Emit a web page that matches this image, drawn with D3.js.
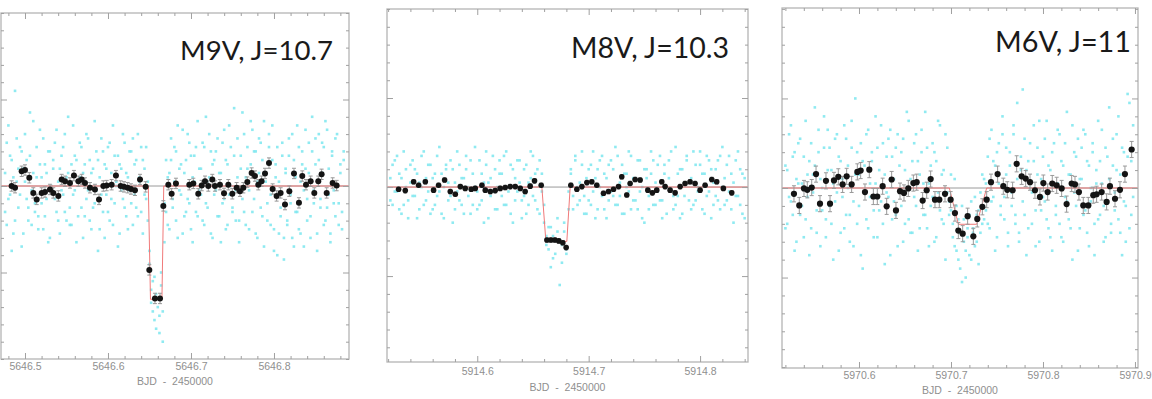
<!DOCTYPE html>
<html><head><meta charset="utf-8">
<script src="https://cdn.jsdelivr.net/npm/d3@7"></script>
<style>body{margin:0;background:#fff}svg{display:block}</style>
</head><body>
<svg id="c" width="1152" height="399"></svg>
<script>
// ---------------- DATA ----------------
const titles = ["M9V, J=10.7", "M8V, J=10.3", "M6V, J=11"];
const xAxisTitle = "BJD - 2450000";
const xTicks1 = [5646.5, 5646.6, 5646.7, 5646.8];
const xTicks2 = [5914.6, 5914.7, 5914.8];
const xTicks3 = [5970.6, 5970.7, 5970.8, 5970.9];
const yTicksMajor = [0.98, 1.00, 1.02];

// Panel 1 binned (black) points
const bin1T = [5646.4839,5646.4880,5646.4960,5646.5000,5646.5052,5646.5100,5646.5141,5646.5201,5646.5241,5646.5301,
 5646.5341,5646.5402,5646.5442,5646.5482,5646.5542,5646.5590,5646.5643,5646.5683,5646.5723,5646.5783,
 5646.5843,5646.5892,5646.5944,5646.5984,5646.6044,5646.6096,5646.6153,5646.6193,5646.6237,5646.6277,
 5646.6325,5646.6386,5646.6454,5646.6498,5646.6566,5646.6627,5646.6667,5646.6727,5646.6767,5646.6819,
 5646.6980,5646.7028,5646.7088,5646.7129,5646.7169,5646.7209,5646.7257,5646.7289,5646.7349,5646.7398,
 5646.7450,5646.7498,5646.7550,5646.7590,5646.7631,5646.7679,5646.7731,5646.7771,5646.7811,5646.7851,
 5646.7892,5646.7940,5646.7984,5646.8032,5646.8080,5646.8133,5646.8185,5646.8241,5646.8301,5646.8341,
 5646.8386,5646.8442,5646.8486,5646.8534,5646.8574,5646.8635,5646.8707,5646.8755];
const bin1F = [1.0000,0.9996,1.0034,1.0037,1.0019,0.9984,0.9969,0.9984,0.9986,0.9992,
 0.9984,0.9977,1.0015,1.0011,1.0007,1.0024,1.0011,1.0015,1.0007,0.9996,
 0.9992,0.9969,1.0000,1.0001,1.0003,1.0024,1.0000,0.9998,0.9996,0.9993,
 0.9990,1.0015,0.9998,0.9806,0.9740,0.9740,0.9954,1.0003,0.9982,1.0006,
 1.0003,1.0006,0.9982,1.0001,1.0011,1.0000,1.0015,1.0000,1.0003,0.9983,
 1.0003,0.9982,0.9996,0.9988,0.9996,1.0009,1.0030,1.0023,1.0003,1.0011,
 1.0029,1.0053,0.9993,0.9977,0.9984,0.9957,0.9988,1.0029,0.9961,1.0023,
 1.0003,1.0011,0.9984,1.0011,1.0027,0.9984,1.0007,1.0001];
const bin1Err = 0.0012;
const model1T = [5646.4711,5646.6486,5646.6512,5646.6650,5646.6672,5646.8904];
const model1F = [1,1,0.9738,0.9738,1,1];

// Panel 1 raw (cyan) points: time, and two exposures' flux deviation in ppt
const raw1T = [5646.476,5646.478,5646.480,5646.482,5646.484,5646.486,5646.488,5646.490,5646.492,5646.494,
 5646.496,5646.498,5646.500,5646.502,5646.504,5646.506,5646.508,5646.510,5646.512,5646.514,
 5646.516,5646.518,5646.520,5646.522,5646.524,5646.526,5646.528,5646.530,5646.532,5646.534,
 5646.536,5646.538,5646.540,5646.542,5646.544,5646.546,5646.548,5646.550,5646.552,5646.554,
 5646.556,5646.558,5646.560,5646.562,5646.564,5646.566,5646.568,5646.570,5646.572,5646.574,
 5646.576,5646.578,5646.580,5646.582,5646.584,5646.586,5646.588,5646.590,5646.592,5646.594,
 5646.596,5646.598,5646.600,5646.602,5646.604,5646.606,5646.608,5646.610,5646.612,5646.614,
 5646.616,5646.618,5646.620,5646.622,5646.624,5646.626,5646.628,5646.630,5646.632,5646.634,
 5646.636,5646.638,5646.640,5646.642,5646.644,5646.646,5646.648,5646.650,5646.652,5646.654,
 5646.656,5646.658,5646.660,5646.662,5646.664,5646.666,5646.668,5646.670,5646.672,5646.674,
 5646.676,5646.678,5646.680,5646.682,5646.684,5646.686,5646.688,5646.690,5646.692,5646.694,
 5646.696,5646.698,5646.700,5646.702,5646.704,5646.706,5646.708,5646.710,5646.712,5646.714,
 5646.716,5646.718,5646.720,5646.722,5646.724,5646.726,5646.728,5646.730,5646.732,5646.734,
 5646.736,5646.738,5646.740,5646.742,5646.744,5646.746,5646.748,5646.750,5646.752,5646.754,
 5646.756,5646.758,5646.760,5646.762,5646.764,5646.766,5646.768,5646.770,5646.772,5646.774,
 5646.776,5646.778,5646.780,5646.782,5646.784,5646.786,5646.788,5646.790,5646.792,5646.794,
 5646.796,5646.798,5646.800,5646.802,5646.804,5646.806,5646.808,5646.810,5646.812,5646.814,
 5646.816,5646.818,5646.820,5646.822,5646.824,5646.826,5646.828,5646.830,5646.832,5646.834,
 5646.836,5646.838,5646.840,5646.842,5646.844,5646.846,5646.848,5646.850,5646.852,5646.854,
 5646.856,5646.858,5646.860,5646.862,5646.864,5646.866,5646.868,5646.870,5646.872,5646.874,
 5646.876,5646.878,5646.880,5646.882,5646.884];
const raw1A = [3,-9,14,-2,6,-11,22,1,-5,9, -14,4,12,-3,-8,7,-1,15,-6,2, -10,5,-4,11,-7,3,8,-12,0,6,
 -3,13,-8,4,-1,9,-6,2,16,-9, 5,-2,7,-13,1,10,-5,3,-7,12, -1,6,-10,4,-4,8,-15,2,11,-6,
 5,-2,9,-8,3,14,-4,0,7,-11, 4,-3,10,-7,2,-1,8,-9,5,-5, 12,1,-6,6,-2,9,-8,-18,-24,-29,
 -21,-33,-26,-30,-23,-36,-4,6,-9,3, 11,-5,1,8,-12,4,-2,13,-7,6, -3,10,-10,2,7,-6,15,-1,4,-8,
 9,-4,1,12,-11,5,-2,8,-7,3, -13,10,-3,6,-9,14,0,-5,7,-1, 11,-8,4,17,-6,2,9,-10,5,13,
 -3,8,-12,3,10,-7,15,1,-4,12, -9,6,-15,2,9,-11,-5,7,-17,3, -8,11,-2,-12,6,-6,14,-10,1,8,
 -14,4,-3,10,-7,16,-1,5,-11,12, -5,3,9,-8,13,-2,-13,7,-4,11, 0,-9,5,-6,8];
const raw1B = [-6,10,-3,7,-15,2,-8,11,4,-2, 8,-11,1,6,-5,17,-9,3,-4,9, -7,13,2,-10,5,-3,-13,8,-1,4,
 10,-6,1,-11,7,-2,12,-8,3,-5, -9,14,-1,6,-7,2,9,-12,5,-3, 11,-8,3,-5,15,-1,6,-10,-2,8,
 -12,4,-6,10,-3,-9,7,1,-14,5, -1,12,-5,3,-10,8,-4,11,-2,6, -7,2,9,-11,4,-3,1,-15,-27,-22,
 -31,-25,-28,-34,-20,-29,-13,-6,2,-10, 6,-3,9,-8,14,-1,5,-11,3,-6, 12,-4,7,-13,1,9,-7,4,-2,10,
 -9,16,-5,2,8,-12,6,-1,11,-7, 3,-4,13,-10,5,-2,9,-6,18,-8, 2,-13,7,-3,12,-9,4,-1,15,-6,
 8,-11,1,11,-5,6,-14,3,-8,9, -2,14,-10,5,-16,1,-7,10,-12,4, -9,7,-4,12,-14,2,-6,9,-11,5,
 -1,13,-8,3,-12,8,-4,11,-15,6, -3,10,-9,15,-5,4,-11,8,-1,-7, 12,-4,3,-10,6];

// Panel 2 binned points
const bin2T = [5914.5294,5914.5354,5914.5429,5914.5474,5914.5534,5914.5608,5914.5653,5914.5707,5914.5758,5914.5803,
 5914.5848,5914.5892,5914.5946,5914.5982,5914.6042,5914.6072,5914.6117,5914.6161,5914.6206,5914.6251,
 5914.6296,5914.6341,5914.6386,5914.6430,5914.6475,5914.6514,5914.6574,5914.6625,5914.6661,5914.6697,
 5914.6732,5914.6768,5914.6798,5914.6840,5914.6894,5914.6939,5914.6984,5914.7028,5914.7073,5914.7133,
 5914.7178,5914.7223,5914.7268,5914.7297,5914.7342,5914.7372,5914.7417,5914.7462,5914.7531,5914.7572,
 5914.7611,5914.7656,5914.7686,5914.7731,5914.7776,5914.7821,5914.7865,5914.7910,5914.7955,5914.8000,
 5914.8045,5914.8105,5914.8149,5914.8209,5914.8284];
const bin2F = [0.9995,0.9992,1.0012,1.0004,1.0012,0.9993,1.0004,1.0016,0.9990,0.9984,
 1.0001,0.9997,0.9995,0.9997,1.0004,0.9993,0.9990,0.9992,0.9997,0.9999,
 1.0001,1.0001,0.9997,0.9990,1.0002,1.0014,1.0004,0.9881,0.9881,0.9881,
 0.9879,0.9875,0.9864,1.0004,0.9995,1.0001,1.0010,1.0012,1.0004,0.9986,
 0.9990,0.9995,1.0001,1.0023,0.9982,1.0008,1.0017,1.0016,0.9993,0.9987,
 0.9993,1.0012,1.0001,0.9993,0.9987,1.0001,1.0008,1.0012,1.0008,0.9993,
 1.0004,1.0017,1.0012,0.9997,0.9987];
const bin2Err = 0.0005;
const model2T = [5914.5190,5914.6580,5914.6616,5914.6804,5914.6834,5914.8430];
const model2F = [1,1,0.9878,0.9878,1,1];

const raw2T = [5914.522,5914.524,5914.526,5914.528,5914.530,5914.532,5914.534,5914.536,5914.538,5914.540,
 5914.542,5914.544,5914.546,5914.548,5914.550,5914.552,5914.554,5914.556,5914.558,5914.560,
 5914.562,5914.564,5914.566,5914.568,5914.570,5914.572,5914.574,5914.576,5914.578,5914.580,
 5914.582,5914.584,5914.586,5914.588,5914.590,5914.592,5914.594,5914.596,5914.598,5914.600,
 5914.602,5914.604,5914.606,5914.608,5914.610,5914.612,5914.614,5914.616,5914.618,5914.620,
 5914.622,5914.624,5914.626,5914.628,5914.630,5914.632,5914.634,5914.636,5914.638,5914.640,
 5914.642,5914.644,5914.646,5914.648,5914.650,5914.652,5914.654,5914.656,5914.658,5914.660,
 5914.662,5914.664,5914.666,5914.668,5914.670,5914.672,5914.674,5914.676,5914.678,5914.680,
 5914.682,5914.684,5914.686,5914.688,5914.690,5914.692,5914.694,5914.696,5914.698,5914.700,
 5914.702,5914.704,5914.706,5914.708,5914.710,5914.712,5914.714,5914.716,5914.718,5914.720,
 5914.722,5914.724,5914.726,5914.728,5914.730,5914.732,5914.734,5914.736,5914.738,5914.740,
 5914.742,5914.744,5914.746,5914.748,5914.750,5914.752,5914.754,5914.756,5914.758,5914.760,
 5914.762,5914.764,5914.766,5914.768,5914.770,5914.772,5914.774,5914.776,5914.778,5914.780,
 5914.782,5914.784,5914.786,5914.788,5914.790,5914.792,5914.794,5914.796,5914.798,5914.800,
 5914.802,5914.804,5914.806,5914.808,5914.810,5914.812,5914.814,5914.816,5914.818,5914.820,
 5914.822,5914.824,5914.826,5914.828,5914.830,5914.832,5914.834,5914.836,5914.838,5914.840];
const raw2A = [2,-4,6,-1,3,-6,8,0,-3,5, -2,4,-7,1,7,-4,2,-1,5,-5, 3,-2,9,-6,0,4,-3,6,-8,1,
 -1,5,-4,2,7,-2,-6,3,0,-5, 6,-3,1,8,-7,2,-1,4,-5,3, -2,7,-4,0,5,-8,2,-1,6,-3,
 4,-6,1,8,-2,3,-5,6,-1,-4, -11,-14,-9,-16,-12,-10,-22,-13,-8,-15, -5,3,-2,6,-4,1,8,-6,2,-3,
 5,-1,-7,4,0,7,-5,2,-3,6, -2,9,-4,1,5,-6,3,-1,7,-3, 2,-5,6,0,-8,4,-2,8,-4,1,
 5,-3,-7,3,0,6,-1,-5,9,-2, 4,-6,1,7,-3,2,-4,5,-1,8, -5,3,-2,6,-7,1,4,-3,7,0,
 -4,5,-1,3,-8,6,-2,4,-6,2];
const raw2B = [-3,5,-1,7,-5,2,-4,4,-7,1, 6,-2,3,-5,0,8,-3,5,-6,2, -4,7,-1,3,-7,5,1,-2,4,-5,
 8,-3,2,-6,4,0,6,-4,9,-1, -4,3,-8,5,1,-2,7,-5,0,6, 3,-4,8,-1,-6,4,-3,6,1,-7,
 -2,5,-4,2,7,-3,4,-6,3,-8, -13,-9,-18,-11,-15,-7,-12,-17,-10,-14, -1,4,-5,7,0,-3,5,-2,-6,4,
 -4,8,2,-5,6,-2,3,-7,5,-1, 4,-4,7,-2,-6,3,0,8,-5,2, -3,6,-1,-7,4,2,-5,3,6,-4,
 -1,7,-3,5,-6,2,8,-2,-4,3, -7,4,-2,6,1,-5,8,-3,0,5, 3,-6,7,-1,4,-4,-2,6,-5,9,
 2,-3,7,-5,1,-2,8,-4,3,-7];

// Panel 3 binned points
const bin3T = [5970.5293,5970.5351,5970.5402,5970.5438,5970.5486,5970.5533,5970.5576,5970.5641,5970.5685,5970.5728,
 5970.5775,5970.5822,5970.5866,5970.5920,5970.5982,5970.6018,5970.6065,5970.6112,5970.6156,5970.6199,
 5970.6257,5970.6301,5970.6355,5970.6402,5970.6446,5970.6489,5970.6536,5970.6591,5970.6627,5970.6692,
 5970.6736,5970.6779,5970.6826,5970.6873,5970.6935,5970.6996,5970.7043,5970.7080,5970.7127,5970.7181,
 5970.7243,5970.7286,5970.7341,5970.7388,5970.7435,5970.7507,5970.7569,5970.7612,5970.7670,5970.7714,
 5970.7768,5970.7812,5970.7859,5970.7913,5970.7967,5970.8004,5970.8051,5970.8101,5970.8149,5970.8203,
 5970.8257,5970.8312,5970.8348,5970.8391,5970.8438,5970.8493,5970.8547,5970.8583,5970.8638,5970.8692,
 5970.8728,5970.8783,5970.8837,5970.8891,5970.8964];
const bin3F = [0.9987,0.9961,0.9999,0.9996,1.0001,1.0031,0.9965,1.0016,0.9965,1.0017,
 1.0025,1.0008,1.0026,1.0008,1.0036,1.0039,0.9991,1.0041,0.9981,0.9981,
 1.0004,0.9959,1.0019,0.9950,0.9993,0.9989,0.9999,1.0011,1.0013,0.9972,
 0.9995,1.0020,0.9974,0.9974,0.9987,0.9974,0.9944,0.9905,0.9898,0.9937,
 0.9892,0.9931,0.9958,0.9974,1.0013,1.0031,1.0004,0.9996,0.9995,1.0054,
 1.0026,1.0021,1.0013,0.9995,0.9980,1.0011,0.9991,1.0010,1.0006,0.9999,
 0.9964,1.0010,1.0008,0.9991,0.9961,0.9961,0.9984,0.9986,0.9991,0.9969,
 1.0004,0.9976,0.9996,1.0031,1.0086];
const bin3Err = 0.0018;
const model3T = [5970.5163,5970.6982,5970.7080,5970.7279,5970.7388,5970.9033];
const model3F = [1,1,0.9919,0.9919,1,1];

const raw3T = [5970.520,5970.522,5970.524,5970.526,5970.528,5970.530,5970.532,5970.534,5970.536,5970.538,
 5970.540,5970.542,5970.544,5970.546,5970.548,5970.550,5970.552,5970.554,5970.556,5970.558,
 5970.560,5970.562,5970.564,5970.566,5970.568,5970.570,5970.572,5970.574,5970.576,5970.578,
 5970.580,5970.582,5970.584,5970.586,5970.588,5970.590,5970.592,5970.594,5970.596,5970.598,
 5970.600,5970.602,5970.604,5970.606,5970.608,5970.610,5970.612,5970.614,5970.616,5970.618,
 5970.620,5970.622,5970.624,5970.626,5970.628,5970.630,5970.632,5970.634,5970.636,5970.638,
 5970.640,5970.642,5970.644,5970.646,5970.648,5970.650,5970.652,5970.654,5970.656,5970.658,
 5970.660,5970.662,5970.664,5970.666,5970.668,5970.670,5970.672,5970.674,5970.676,5970.678,
 5970.680,5970.682,5970.684,5970.686,5970.688,5970.690,5970.692,5970.694,5970.696,5970.698,
 5970.700,5970.702,5970.704,5970.706,5970.708,5970.710,5970.712,5970.714,5970.716,5970.718,
 5970.720,5970.722,5970.724,5970.726,5970.728,5970.730,5970.732,5970.734,5970.736,5970.738,
 5970.740,5970.742,5970.744,5970.746,5970.748,5970.750,5970.752,5970.754,5970.756,5970.758,
 5970.760,5970.762,5970.764,5970.766,5970.768,5970.770,5970.772,5970.774,5970.776,5970.778,
 5970.780,5970.782,5970.784,5970.786,5970.788,5970.790,5970.792,5970.794,5970.796,5970.798,
 5970.800,5970.802,5970.804,5970.806,5970.808,5970.810,5970.812,5970.814,5970.816,5970.818,
 5970.820,5970.822,5970.824,5970.826,5970.828,5970.830,5970.832,5970.834,5970.836,5970.838,
 5970.840,5970.842,5970.844,5970.846,5970.848,5970.850,5970.852,5970.854,5970.856,5970.858,
 5970.860,5970.862,5970.864,5970.866,5970.868,5970.870,5970.872,5970.874,5970.876,5970.878,
 5970.880,5970.882,5970.884,5970.886,5970.888,5970.890,5970.892,5970.894,5970.896,5970.898];
const raw3A = [5,-8,12,-3,7,-14,2,10,-6,1, -11,15,-2,6,-9,3,18,-5,8,-13, 0,9,-7,13,-4,4,-16,11,-1,7,
 -10,2,14,-6,5,-12,9,-3,20,-8, 3,-15,6,-1,12,-9,1,8,-5,16, -11,4,-3,10,-17,7,-2,13,-7,2,
 9,-13,5,-4,11,-8,0,15,-10,6, -2,12,-14,3,8,-6,17,-9,1,-4, 10,-12,6,-1,14,-7,4,-16,9,-3,
 -5,-11,2,-14,-7,-18,-4,-12,-20,-9, -15,-3,-10,-13,-6,-17,-1,-8,2,-5, 7,-9,13,-2,5,-11,10,-4,16,-7,
 3,-13,8,-1,12,-6,19,-10,4,-3, 11,-15,6,0,-8,14,-5,9,-12,2, 7,-3,15,-9,4,-14,10,-6,1,12,
 -11,5,-2,17,-7,3,-16,8,-4,11, -9,2,13,-5,6,-13,0,10,-8,4, 15,-6,1,-12,9,-3,18,-10,5,-1,
 12,-7,3,-15,8,-4,21,-9,6,-2];
const raw3B = [-9,4,-2,14,-6,8,-12,1,11,-4, 7,-7,3,-15,10,-1,5,-10,13,2, -5,16,-11,4,9,-8,1,-3,12,-14,
 6,-2,-9,11,0,-6,15,-13,3,8, -4,10,-18,5,-7,13,-2,6,-11,1, 9,-5,14,-8,3,-1,11,-15,7,-3,
 -6,12,-1,8,-12,4,17,-7,2,-10, 10,-4,6,-9,13,1,-6,9,-13,5, -2,8,-11,15,-5,3,-8,12,-1,-6,
 3,-8,-13,-4,-16,-10,-21,-7,-14,-11, -6,-16,-9,-2,-12,-5,-10,3,-7,1, -8,11,-3,6,-14,8,1,-6,12,-2,
 9,-10,5,-4,14,-8,2,-12,7,22, -6,4,-9,10,-1,6,-13,3,15,-5, -2,11,-7,5,-11,8,1,-4,13,-8,
 6,-12,10,-3,3,-9,14,-1,7,-14, 2,9,-6,12,-10,5,-3,8,-15,1, -7,6,13,-4,-11,7,2,-8,11,-5,
 4,16,-10,9,-3,-12,7,19,-6,14];

// ---------------- LAYOUT / STYLE ----------------
const panels = [
  {title: titles[0], xTicks: xTicks1, binT: bin1T, binF: bin1F, err: bin1Err, modT: model1T, modF: model1F,
   rawT: raw1T, rawA: raw1A, rawB: raw1B,
   box: {x0: 1, y0: 13, x1: 349, y1: 359}, xDom: [5646.4711, 5646.8904], yDom: [0.9600, 1.0400],
   titleRight: 333, titleBase: 60, titleW: 153, lblPad: 4, axTitleY: 385, r: 3.0},
  {title: titles[1], xTicks: xTicks2, binT: bin2T, binF: bin2F, err: bin2Err, modT: model2T, modF: model2F,
   rawT: raw2T, rawA: raw2A, rawB: raw2B,
   box: {x0: 387, y0: 9, x1: 748, y1: 362}, xDom: [5914.519, 5914.843], yDom: [0.9607, 1.0400],
   titleRight: 729, titleBase: 58, titleW: 158, lblPad: 6, axTitleY: 391, r: 2.8},
  {title: titles[2], xTicks: xTicks3, binT: bin3T, binF: bin3F, err: bin3Err, modT: model3T, modF: model3F,
   rawT: raw3T, rawA: raw3A, rawB: raw3B,
   box: {x0: 782, y0: 8, x1: 1138, y1: 368}, xDom: [5970.5163, 5970.9033], yDom: [0.9598, 1.0402],
   titleRight: 1131, titleBase: 52, titleW: 136, lblPad: 4, axTitleY: 394, r: 3.1}
];

const svg = d3.select("#c");
const frameColor = "#b4b4b4";
const tickColor = "#a0a0a0";

panels.forEach(p => {
  const b = p.box;
  const x = d3.scaleLinear().domain(p.xDom).range([b.x0, b.x1]);
  const y = d3.scaleLinear().domain(p.yDom).range([b.y1, b.y0]);
  const g = svg.append("g");

  const clipId = "clip" + b.x0;
  g.append("clipPath").attr("id", clipId).append("rect")
    .attr("x", b.x0).attr("y", b.y0).attr("width", b.x1 - b.x0).attr("height", b.y1 - b.y0);
  const plot = g.append("g").attr("clip-path", `url(#${clipId})`);

  // raw cyan points
  const raw = [];
  p.rawT.forEach((t, i) => {
    raw.push({t: t, f: 1 + p.rawA[i] / 1000});
    raw.push({t: t, f: 1 + p.rawB[i] / 1000});
  });
  plot.selectAll("rect.raw").data(raw).join("rect").attr("class", "raw")
    .attr("x", d => x(d.t) - 1.3).attr("y", d => y(d.f) - 1.3)
    .attr("width", 2.6).attr("height", 2.6)
    .attr("fill", "#7be6ef").attr("opacity", 0.85);

  // reference line at flux = 1
  plot.append("line").attr("x1", b.x0).attr("x2", b.x1).attr("y1", y(1)).attr("y2", y(1))
    .attr("stroke", "#9a9a9a").attr("stroke-width", 1);

  // model
  const model = p.modT.map((t, i) => ({t: t, f: p.modF[i]}));
  plot.append("path").datum(model)
    .attr("d", d3.line().x(d => x(d.t)).y(d => y(d.f)))
    .attr("fill", "none").attr("stroke", "#f07a7a").attr("stroke-width", 1);

  // binned points
  const bins = p.binT.map((t, i) => ({t: t, f: p.binF[i]}));
  const eb = plot.selectAll("g.eb").data(bins).join("g").attr("class", "eb");
  eb.append("line").attr("x1", d => x(d.t)).attr("x2", d => x(d.t))
    .attr("y1", d => y(d.f - p.err)).attr("y2", d => y(d.f + p.err))
    .attr("stroke", "#999").attr("stroke-width", 1);
  eb.append("line").attr("x1", d => x(d.t) - 2).attr("x2", d => x(d.t) + 2)
    .attr("y1", d => y(d.f + p.err)).attr("y2", d => y(d.f + p.err))
    .attr("stroke", "#999").attr("stroke-width", 1);
  eb.append("line").attr("x1", d => x(d.t) - 2).attr("x2", d => x(d.t) + 2)
    .attr("y1", d => y(d.f - p.err)).attr("y2", d => y(d.f - p.err))
    .attr("stroke", "#999").attr("stroke-width", 1);
  plot.selectAll("circle.bin").data(bins).join("circle").attr("class", "bin")
    .attr("cx", d => x(d.t)).attr("cy", d => y(d.f)).attr("r", p.r)
    .attr("fill", "#141414");

  // frame
  g.append("rect").attr("x", b.x0).attr("y", b.y0).attr("width", b.x1 - b.x0).attr("height", b.y1 - b.y0)
    .attr("fill", "none").attr("stroke", frameColor).attr("stroke-width", 1.3);

  // ticks
  const xMinor = d3.range(Math.ceil(p.xDom[0] * 50), Math.floor(p.xDom[1] * 50) + 1).map(v => v / 50)
    .filter(v => !p.xTicks.some(m => Math.abs(m - v) < 1e-6));
  const yMinor = d3.range(240, 261).map(v => v / 250).filter(v => v >= p.yDom[0] && v <= p.yDom[1]
    && !yTicksMajor.some(m => Math.abs(m - v) < 1e-6));

  const style = sel => { sel.select(".domain").remove(); sel.selectAll("line").attr("stroke", tickColor); };

  g.append("g").attr("transform", `translate(0,${b.y1})`)
    .call(d3.axisBottom(x).tickValues(p.xTicks).tickSize(-6).tickPadding(p.lblPad).tickFormat(d3.format(".1f")))
    .call(style)
    .call(s => s.selectAll("text").attr("fill", "#8f8f8f").attr("font-size", "10.5px")
      .attr("font-family", "Liberation Sans, Arial, sans-serif"));
  g.append("g").attr("transform", `translate(0,${b.y1})`)
    .call(d3.axisBottom(x).tickValues(xMinor).tickSize(-3).tickFormat("")).call(style);
  g.append("g").attr("transform", `translate(0,${b.y0})`)
    .call(d3.axisTop(x).tickValues(p.xTicks).tickSize(-6).tickFormat("")).call(style);
  g.append("g").attr("transform", `translate(0,${b.y0})`)
    .call(d3.axisTop(x).tickValues(xMinor).tickSize(-3).tickFormat("")).call(style);
  g.append("g").attr("transform", `translate(${b.x0},0)`)
    .call(d3.axisLeft(y).tickValues(yTicksMajor).tickSize(-6).tickFormat("")).call(style);
  g.append("g").attr("transform", `translate(${b.x0},0)`)
    .call(d3.axisLeft(y).tickValues(yMinor).tickSize(-3).tickFormat("")).call(style);
  g.append("g").attr("transform", `translate(${b.x1},0)`)
    .call(d3.axisRight(y).tickValues(yTicksMajor).tickSize(-6).tickFormat("")).call(style);
  g.append("g").attr("transform", `translate(${b.x1},0)`)
    .call(d3.axisRight(y).tickValues(yMinor).tickSize(-3).tickFormat("")).call(style);

  // axis title
  g.append("text").attr("x", (b.x0 + b.x1) / 2).attr("y", p.axTitleY)
    .attr("text-anchor", "middle").attr("fill", "#8f8f8f").attr("font-size", "10.5px")
    .attr("font-family", "Liberation Sans, Arial, sans-serif").style("white-space", "pre")
    .text(xAxisTitle.replace(" - ", "  -  "));

  // title
  const t = g.append("text").attr("x", p.titleRight).attr("y", p.titleBase)
    .attr("text-anchor", "end").attr("fill", "#1a1a1a")
    .attr("font-family", "Lato, 'Open Sans', sans-serif").attr("font-size", 30)
    .text(p.title);
  const w = t.node().getComputedTextLength();
  t.attr("font-size", 30 * p.titleW / w);
});
</script>
</body></html>
